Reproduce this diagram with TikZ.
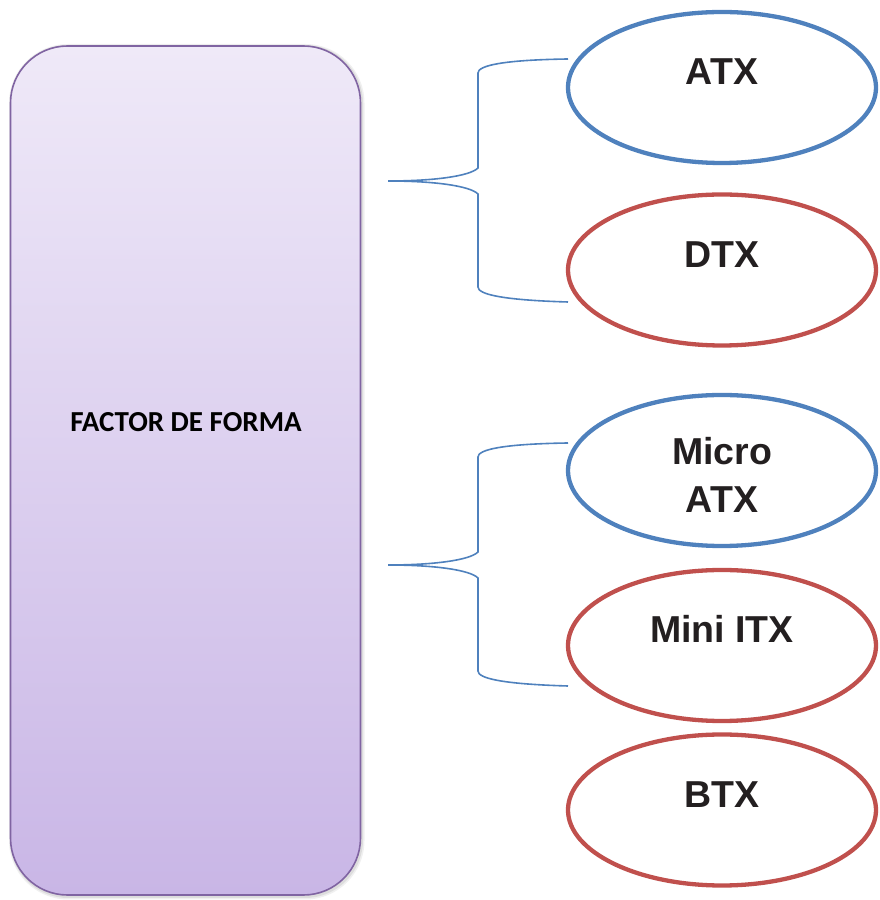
\documentclass[tikz,border=0pt]{standalone}
\usepackage{fontspec}
\setmainfont{Liberation Sans}
\newfontfamily\calibrifont{Carlito}
\usetikzlibrary{shapes.geometric,calc}
\definecolor{accblue}{RGB}{79,129,189}
\definecolor{accred}{RGB}{192,80,77}
\definecolor{accpurple}{RGB}{128,100,162}
\definecolor{lavtop}{RGB}{239,233,248}
\definecolor{lavbot}{RGB}{201,182,230}
\definecolor{inkblack}{RGB}{35,31,32}
\begin{document}
\begin{tikzpicture}[x=1pt,y=1pt,
  formbox/.style={rectangle, rounded corners=57pt, draw=accpurple, line width=1.6pt,
    top color=lavtop, bottom color=lavbot, minimum width=350pt, minimum height=849pt, inner sep=0pt},
  oval/.style={ellipse, fill=white, line width=4.3pt, minimum width=308pt, minimum height=151pt, inner sep=0pt},
  blueoval/.style={oval, draw=accblue},
  redoval/.style={oval, draw=accred},
  ovaltext/.style={anchor=base, text=inkblack, font=\fontsize{37.5}{48}\selectfont\bfseries, align=center, inner sep=0pt},
  bracket/.style={draw=accblue, line width=1.6pt}
]
\useasboundingbox (0,0) rectangle (880,900);

% soft shadow under the main box
\fill[black, opacity=0.06, rounded corners=59pt] (9,0.5) rectangle (364.5,856);
\fill[black, opacity=0.08, rounded corners=58pt] (10,2) rectangle (363,855);

% main box
\node[formbox] (main) at (185.5,429.5) {};
\node[font=\calibrifont\fontsize{29}{34}\selectfont\bfseries] (maintext) at (186,478) {FACTOR DE FORMA};

% ovals
\node[blueoval] (atx) at (722,812.5) {};
\node[ovaltext] (atxt) at (722,815) {ATX};
\node[redoval] (dtx) at (722,630) {};
\node[ovaltext] (dtxt) at (722,632) {DTX};
\node[blueoval] (matx) at (722,429.5) {};
\node[ovaltext] (matxt1) at (722,435) {Micro};
\node[ovaltext] (matxt2) at (722,387) {ATX};
\node[redoval] (mitx) at (722,254.5) {};
\node[ovaltext] (mitxt) at (722,257) {Mini ITX};
\node[redoval] (btx) at (722,90) {};
\node[ovaltext] (btxt) at (722,92) {BTX};

% bracket ends
\coordinate (tipA) at (388,719);
\coordinate (endA1) at (568,841);
\coordinate (endA2) at (568,598);
\coordinate (tipB) at (388,335);
\coordinate (endB1) at (568,457);
\coordinate (endB2) at (568,214);

% upper bracket
\draw[bracket] (tipA) .. controls (435,719) and (470,724) .. (478,732)
  -- (478,827) .. controls (478,834) and (500,840) .. (endA1);
\draw[bracket] (tipA) .. controls (435,719) and (470,714) .. (478,706)
  -- (478,613) .. controls (478,606) and (500,600) .. (endA2);

% lower bracket
\draw[bracket] (tipB) .. controls (435,335) and (470,340) .. (478,348)
  -- (478,443) .. controls (478,450) and (500,456) .. (endB1);
\draw[bracket] (tipB) .. controls (435,335) and (470,330) .. (478,322)
  -- (478,229) .. controls (478,222) and (500,216) .. (endB2);
\end{tikzpicture}
\end{document}
